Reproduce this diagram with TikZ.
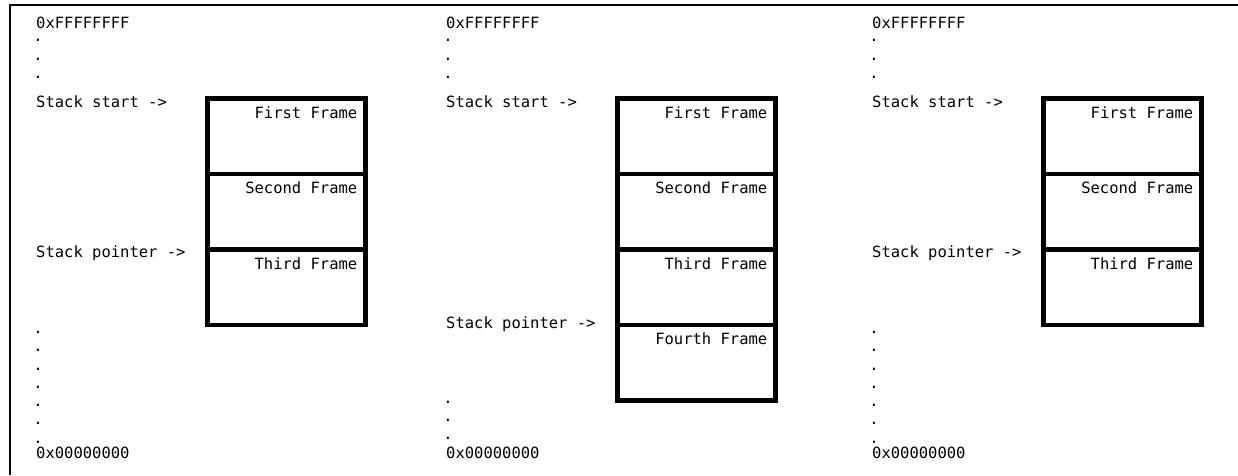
\documentclass[tikz,border=0pt]{standalone}
\usepackage{fontspec}
\setmonofont{DejaVu Sans Mono}
\usetikzlibrary{positioning}
\newcommand\memfont{\ttfamily\fontsize{15.5}{18}\selectfont}

\begin{document}
\begin{tikzpicture}[x=1pt,y=-1pt,
	mem/.style={anchor=base west,inner sep=0pt,font=\memfont},
	dot/.style={anchor=base,inner sep=0pt,font=\memfont},
	frame/.style={draw,line width=4.6pt,minimum width=158pt,minimum height=75.5pt,
		inner sep=0pt,outer sep=0pt,anchor=north west},
	ftext/.style={anchor=base east,inner sep=0pt,font=\memfont}]
	  \useasboundingbox (0,0) rectangle (1238,475);
	  \draw [line width=2pt] (9.5,475) -- (9.5,5) -- (1238,5);
	  % first stack
	  \node[mem] (top1) at (36,28) {0xFFFFFFFF};
	  \foreach \y [count=\i] in {41.5,60,78.5} \node[dot] (ua\i) at (38,\y) {.};
	  \node[mem] (start1) at (36,107) {Stack start ->};
	  \node[mem] (ptr1) at (36,257) {Stack pointer ->};
	  \node[frame] (f11) at (207.5,98.5) {};
	  \node[frame,below=0pt of f11] (f12) {};
	  \node[frame,below=0pt of f12] (f13) {};
	  \node[ftext] (t11) at ([xshift=-8pt,yshift=-19.5pt]f11.north east) {First Frame};
	  \node[ftext] (t12) at ([xshift=-8pt,yshift=-19.5pt]f12.north east) {Second Frame};
	  \node[ftext] (t13) at ([xshift=-8pt,yshift=-19.5pt]f13.north east) {Third Frame};
	  \foreach \y [count=\i] in {333.5,351.8,370,388.3,406.5,424.8,443} \node[dot] (la\i) at (38,\y) {.};
	  \node[mem] (bot1) at (36,458) {0x00000000};
	  % second stack
	  \begin{scope}[xshift=410pt]
	  \node[mem] (top2) at (36,28) {0xFFFFFFFF};
	  \foreach \y [count=\i] in {41.5,60,78.5} \node[dot] (ub\i) at (38,\y) {.};
	  \node[mem] (start2) at (36,107) {Stack start ->};
	  \node[mem] (ptr2) at (36,328) {Stack pointer ->};
	  \node[frame] (f21) at (207.5,98.5) {};
	  \node[frame,below=0pt of f21] (f22) {};
	  \node[frame,below=0pt of f22] (f23) {};
	  \node[frame,below=0pt of f23] (f24) {};
	  \node[ftext] (t21) at ([xshift=-8pt,yshift=-19.5pt]f21.north east) {First Frame};
	  \node[ftext] (t22) at ([xshift=-8pt,yshift=-19.5pt]f22.north east) {Second Frame};
	  \node[ftext] (t23) at ([xshift=-8pt,yshift=-19.5pt]f23.north east) {Third Frame};
	  \node[ftext] (t24) at ([xshift=-8pt,yshift=-19.5pt]f24.north east) {Fourth Frame};
	  \foreach \y [count=\i] in {403.5,421.5,439.5} \node[dot] (lb\i) at (38,\y) {.};
	  \node[mem] (bot2) at (36,458) {0x00000000};
	  \end{scope}
	  % third stack
	  \begin{scope}[xshift=836pt]
	  \node[mem] (top3) at (36,28) {0xFFFFFFFF};
	  \foreach \y [count=\i] in {41.5,60,78.5} \node[dot] (uc\i) at (38,\y) {.};
	  \node[mem] (start3) at (36,107) {Stack start ->};
	  \node[mem] (ptr3) at (36,257) {Stack pointer ->};
	  \node[frame] (f31) at (207.5,98.5) {};
	  \node[frame,below=0pt of f31] (f32) {};
	  \node[frame,below=0pt of f32] (f33) {};
	  \node[ftext] (t31) at ([xshift=-8pt,yshift=-19.5pt]f31.north east) {First Frame};
	  \node[ftext] (t32) at ([xshift=-8pt,yshift=-19.5pt]f32.north east) {Second Frame};
	  \node[ftext] (t33) at ([xshift=-8pt,yshift=-19.5pt]f33.north east) {Third Frame};
	  \foreach \y [count=\i] in {333.5,351.8,370,388.3,406.5,424.8,443} \node[dot] (lc\i) at (38,\y) {.};
	  \node[mem] (bot3) at (36,458) {0x00000000};
	  \end{scope}
	\end{tikzpicture}
\end{document}
